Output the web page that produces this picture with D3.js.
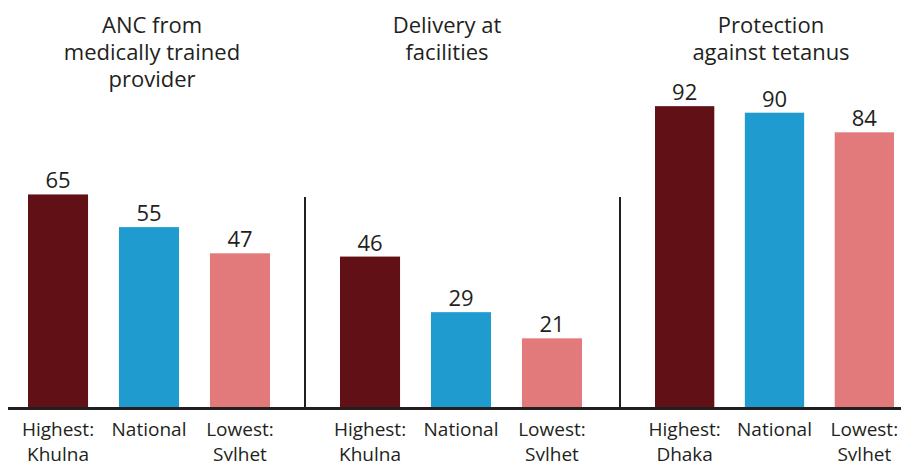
<!DOCTYPE html>
<html>
<head>
<meta charset="utf-8">
<script src="https://cdn.jsdelivr.net/npm/d3@7"></script>
<style>
  body { margin: 0; background: #fff; }
  text { font-family: "Open Sans", sans-serif; fill: #231f20; }
</style>
</head>
<body>
<svg id="chart" width="901" height="461"></svg>
<script>
// data
var panelTitles = [
  ["ANC from", "medically trained", "provider"],
  ["Delivery at", "facilities"],
  ["Protection", "against tetanus"]
];
var categories = [
  [["Highest:", "Khulna"], ["National"], ["Lowest:", "Sylhet"]],
  [["Highest:", "Khulna"], ["National"], ["Lowest:", "Sylhet"]],
  [["Highest:", "Dhaka"], ["National"], ["Lowest:", "Sylhet"]]
];
var values = [
  [65, 55, 47],
  [46, 29, 21],
  [92, 90, 84]
];
var colors = ["#611116", "#1f9bcf", "#e27a7b"];

var svg = d3.select("#chart"),
  width = +svg.attr("width"),
  height = +svg.attr("height");

var baseY = 407;
var y = d3.scaleLinear().domain([0, 100]).range([baseY, 80]);

// panel ranges in pixels
var panelRanges = [[28, 270], [340, 582], [655, 894]];
var titleCenters = [152, 447, 771];

values.forEach(function(vals, p) {
  var x = d3.scaleBand()
    .domain(d3.range(vals.length))
    .range(panelRanges[p])
    .paddingInner(0.34)
    .paddingOuter(0);

  var g = svg.append("g");

  // bars
  g.selectAll("rect")
    .data(vals)
    .enter()
    .append("rect")
    .attr("x", function(d, i) { return x(i); })
    .attr("y", function(d) { return y(d); })
    .attr("width", x.bandwidth())
    .attr("height", function(d) { return baseY - y(d); })
    .attr("fill", function(d, i) { return colors[i]; });

  // value labels
  g.selectAll(".val")
    .data(vals)
    .enter()
    .append("text")
    .attr("class", "val")
    .attr("x", function(d, i) { return x(i) + x.bandwidth() / 2; })
    .attr("y", function(d) { return y(d) - 6; })
    .attr("text-anchor", "middle")
    .style("font-size", "22px")
    .text(function(d) { return d; });

  // category labels
  g.selectAll(".cat")
    .data(categories[p])
    .enter()
    .append("text")
    .attr("class", "cat")
    .attr("x", function(d, i) { return x(i) + x.bandwidth() / 2; })
    .attr("y", 436)
    .attr("text-anchor", "middle")
    .style("font-size", "19px")
    .each(function(lines) {
      var t = d3.select(this);
      lines.forEach(function(l, k) {
        t.append("tspan")
          .attr("x", t.attr("x"))
          .attr("dy", k === 0 ? 0 : 25)
          .text(l);
      });
    });

  // panel title
  var title = g.append("text")
    .attr("x", titleCenters[p])
    .attr("y", 33)
    .attr("text-anchor", "middle")
    .style("font-size", "22px");
  panelTitles[p].forEach(function(l, k) {
    title.append("tspan")
      .attr("x", titleCenters[p])
      .attr("dy", k === 0 ? 0 : 27)
      .text(l);
  });
});

// separators between panels
svg.selectAll(".sep")
  .data([305, 620])
  .enter()
  .append("line")
  .attr("class", "sep")
  .attr("x1", function(d) { return d; })
  .attr("x2", function(d) { return d; })
  .attr("y1", 197)
  .attr("y2", baseY)
  .attr("stroke", "#231f20")
  .attr("stroke-width", 2);

// baseline
svg.append("line")
  .attr("x1", 8)
  .attr("x2", width)
  .attr("y1", baseY + 1.5)
  .attr("y2", baseY + 1.5)
  .attr("stroke", "#231f20")
  .attr("stroke-width", 3);
</script>
</body>
</html>
